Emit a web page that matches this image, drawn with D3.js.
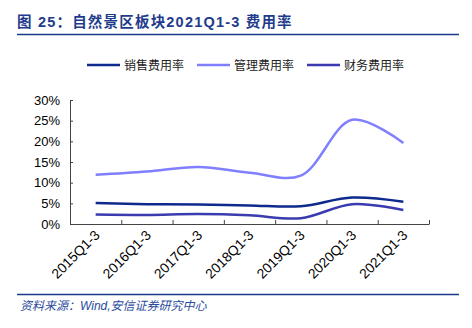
<!DOCTYPE html>
<html><head><meta charset="utf-8">
<script src="https://cdn.jsdelivr.net/npm/d3@7"></script>
<style>body{margin:0;background:#fff}svg{display:block}</style>
</head><body>
<svg id="c" width="472" height="328"></svg>
<script>
const categories = ["2015Q1-3","2016Q1-3","2017Q1-3","2018Q1-3","2019Q1-3","2020Q1-3","2021Q1-3"];
const sales = [5.1, 4.8, 4.7, 4.5, 4.3, 6.4, 5.4];
const mgmt = [11.9, 12.7, 13.8, 12.4, 11.7, 25.2, 19.6];
const finance = [2.3, 2.2, 2.4, 2.1, 1.4, 4.8, 3.4];
const yTicks = [0, 5, 10, 15, 20, 25, 30];
const seriesNames = ["销售费用率","管理费用率","财务费用率"];

const svg = d3.select("#c");
const font = "Arial, 'Liberation Sans', sans-serif";
const blue = "#1f3c8c";

// title
svg.append("text").attr("x", 17).attr("y", 27)
  .attr("font-family", "'Liberation Sans', 'Noto Sans CJK SC', sans-serif").attr("font-weight", "bold")
  .attr("font-size", 14.5).attr("fill", blue).attr("letter-spacing", 1.2)
  .text("图 25：自然景区板块2021Q1-3 费用率");
svg.append("line").attr("x1", 17).attr("x2", 459).attr("y1", 34.5).attr("y2", 34.5)
  .attr("stroke", "#1a3a8c").attr("stroke-width", 1.5);
svg.append("line").attr("x1", 17).attr("x2", 459).attr("y1", 294.5).attr("y2", 294.5)
  .attr("stroke", "#1a3a8c").attr("stroke-width", 1.5);
svg.append("text").attr("x", 20).attr("y", 310)
  .attr("font-family", "'Liberation Sans', 'Noto Sans CJK SC', sans-serif").attr("font-style", "italic")
  .attr("font-size", 12).attr("fill", "#2a4a9c")
  .text("资料来源：Wind,安信证券研究中心");

const x = d3.scaleBand().domain(categories).range([70, 429]);
const y = d3.scaleLinear().domain([0, 30]).range([224, 100]);
const colors = ["#0d2a8c", "#7f7fff", "#3b3bb0"];
const data = [sales, mgmt, finance];

// axes
const gy = svg.append("g").attr("transform", "translate(70,0)")
  .call(d3.axisLeft(y).tickValues(yTicks).tickSize(-3).tickPadding(10).tickFormat(d => d + "%"));
const gx = svg.append("g").attr("transform", "translate(0,224)")
  .call(d3.axisBottom(x).tickSize(0).tickFormat(""));
[gy, gx].forEach(g => {
  g.select(".domain").attr("stroke", "#444");
  g.selectAll(".tick line").attr("stroke", "#444");
});
gy.selectAll("text").attr("font-family", font).attr("font-size", 13).attr("fill", "#000");
// x ticks at band boundaries
const bounds = categories.map(c => x(c)).concat([x.range()[1]]);
svg.append("g").selectAll("line").data(bounds).join("line")
  .attr("x1", d => d + 0.5).attr("x2", d => d + 0.5).attr("y1", 224).attr("y2", 220)
  .attr("stroke", "#444");
// x labels
svg.append("g").selectAll("text").data(categories).join("text")
  .attr("transform", d => `translate(${x(d) + x.bandwidth() / 2 + 5},${236}) rotate(-45)`)
  .attr("text-anchor", "end").attr("font-family", font).attr("font-size", 13.8)
  .attr("fill", "#000").text(d => d);

// lines
const line = d3.line().x((d, i) => x(categories[i]) + x.bandwidth() / 2).y(d => y(d))
  .curve(d3.curveCatmullRom.alpha(0.5));
data.forEach((s, k) => {
  svg.append("path").attr("d", line(s)).attr("fill", "none")
    .attr("stroke", colors[k]).attr("stroke-width", 2.5);
});

// legend
const lx = [87, 197, 307];
seriesNames.forEach((n, k) => {
  svg.append("line").attr("x1", lx[k]).attr("x2", lx[k] + 33).attr("y1", 65).attr("y2", 65)
    .attr("stroke", colors[k]).attr("stroke-width", 2.5);
  svg.append("text").attr("x", lx[k] + 37).attr("y", 69.5)
    .attr("font-family", "'Noto Sans CJK SC', sans-serif").attr("font-size", 12)
    .attr("fill", "#222").text(n);
});
</script>
</body></html>
